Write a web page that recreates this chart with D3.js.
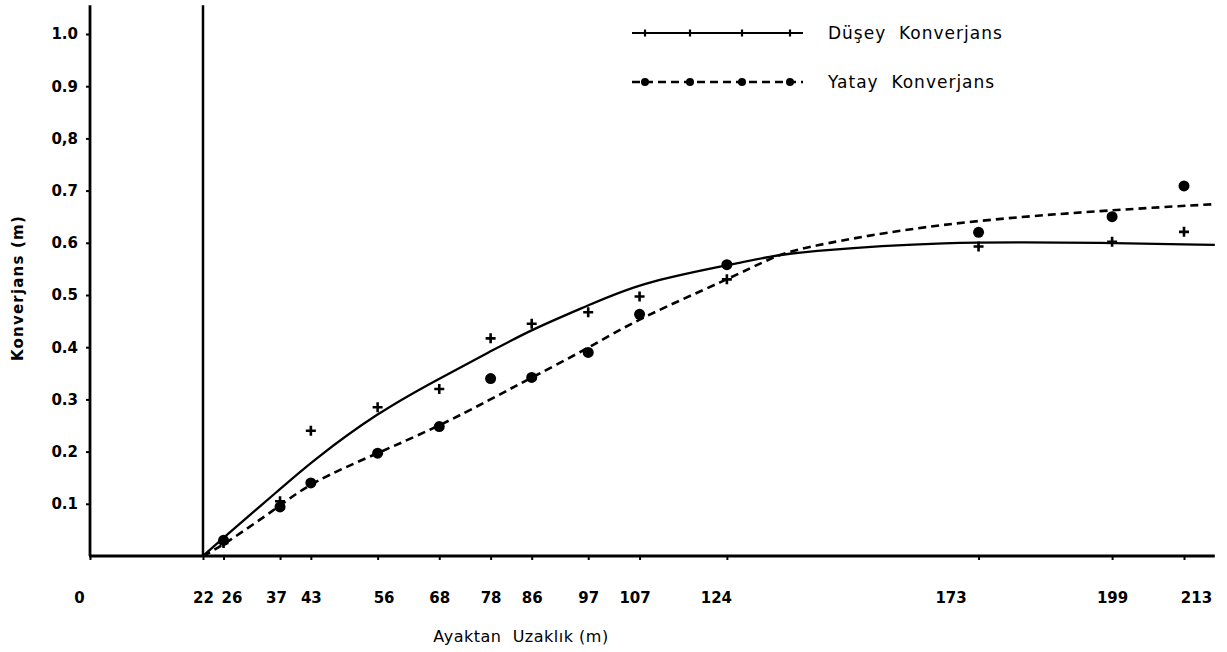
<!DOCTYPE html>
<html>
<head>
<meta charset="utf-8">
<script src="https://cdn.jsdelivr.net/npm/d3@7"></script>
<style>
  body { margin: 0; background: #fff; }
  svg text { font-family: "DejaVu Sans", sans-serif; fill: #000; }
</style>
</head>
<body>
<div id="chart"></div>
<script>
// distance ticks (m) and convergence ticks (m)
const xTicks = [0, 22, 26, 37, 43, 56, 68, 78, 86, 97, 107, 124, 173, 199, 213];
const yTicks = [0.1, 0.2, 0.3, 0.4, 0.5, 0.6, 0.7, 0.8, 0.9, 1.0];
const yTickLabels = ["0.1", "0.2", "0.3", "0.4", "0.5", "0.6", "0.7", "0,8", "0.9", "1.0"];

// measured points
const distances = [26, 37, 43, 56, 68, 78, 86, 97, 107, 124, 173, 199, 213];
const duseyValues = [0.025, 0.105, 0.24, 0.285, 0.32, 0.417, 0.445, 0.467, 0.497, 0.53, 0.593, 0.602, 0.621];
const yatayValues = [0.03, 0.094, 0.14, 0.197, 0.248, 0.34, 0.342, 0.39, 0.463, 0.558, 0.62, 0.65, 0.709];

// hand drawn fit curves
const fitDistances = [22, 26, 37, 43, 56, 68, 78, 86, 97, 107, 124, 133, 138, 165, 199, 219];
const duseyFit = [0, 0.035, 0.128, 0.18, 0.275, 0.34, 0.392, 0.434, 0.48, 0.523, 0.557, 0.575, 0.582, 0.603, 0.60, 0.596];
const yatayFit = [0, 0.021, 0.096, 0.141, 0.197, 0.249, 0.30, 0.342, 0.398, 0.456, 0.529, 0.573, 0.59, 0.638, 0.663, 0.674];

const seriesNames = ["Düşey  Konverjans", "Yatay  Konverjans"];
const xTitle = "Ayaktan  Uzaklık (m)";
const yTitle = "Konverjans (m)";

// hand lettered tick labels sit a bit off their ticks
const labelNudge = {0: -11, 26: 8, 37: -4, 56: 6, 107: -5, 124: -11, 173: -28, 213: 12};

const width = 1227, height = 652;

const svg = d3.select("#chart")
  .append("svg")
    .attr("width", width)
    .attr("height", height);

const x = d3.scaleLinear().domain([0, 213]).range([90, 1184]);
const y = d3.scaleLinear().domain([0, 1]).range([556, 34]);

// axes lines
svg.append("line")
  .attr("x1", x(0)).attr("x2", x(0))
  .attr("y1", y(1.055)).attr("y2", y(0))
  .attr("stroke", "#000").attr("stroke-width", 2.8);
svg.append("line")
  .attr("x1", x(22)).attr("x2", x(22))
  .attr("y1", y(1.055)).attr("y2", y(0))
  .attr("stroke", "#000").attr("stroke-width", 2.5);
svg.append("line")
  .attr("x1", x(0) - 1).attr("x2", x(219))
  .attr("y1", y(0)).attr("y2", y(0))
  .attr("stroke", "#000").attr("stroke-width", 3);

// y axis
const gy = svg.append("g")
  .attr("transform", `translate(${x(0)},0)`)
  .call(d3.axisLeft(y)
    .tickValues(yTicks)
    .tickSize(4)
    .tickPadding(8)
    .tickFormat((d, i) => yTickLabels[i]));
gy.select(".domain").remove();
gy.selectAll(".tick line").attr("stroke-width", 2);
gy.selectAll(".tick text")
  .style("font-family", "'DejaVu Sans', sans-serif")
  .style("font-size", "15px")
  .style("font-weight", "bold");

// x axis
const gx = svg.append("g")
  .attr("transform", `translate(0,${y(0)})`)
  .call(d3.axisBottom(x)
    .tickValues(xTicks)
    .tickSize(4)
    .tickPadding(32)
    .tickFormat(d3.format("d")));
gx.select(".domain").remove();
gx.selectAll(".tick line").attr("stroke-width", 2);
gx.selectAll(".tick text")
  .style("font-family", "'DejaVu Sans', sans-serif")
  .style("font-size", "15px")
  .style("font-weight", "bold")
  .attr("dx", d => labelNudge[d] || 0);

// titles
svg.append("text")
  .attr("x", 521).attr("y", 642)
  .attr("text-anchor", "middle")
  .style("font-size", "16px")
  .style("letter-spacing", "0.5px")
  .style("white-space", "pre")
  .text(xTitle);
svg.append("text")
  .attr("transform", "translate(23,288) rotate(-90)")
  .attr("text-anchor", "middle")
  .style("font-size", "15px")
  .style("font-weight", "bold")
  .style("letter-spacing", "1.2px")
  .text(yTitle);

// fit curves
const fitData = d => fitDistances.map((dx, i) => ({x: dx, y: d[i]}));
const line = d3.line()
  .x(d => x(d.x))
  .y(d => y(d.y))
  .curve(d3.curveBasis);

svg.append("path")
  .datum(fitData(duseyFit))
  .attr("d", line)
  .attr("fill", "none")
  .attr("stroke", "#000")
  .attr("stroke-width", 2.3);
svg.append("path")
  .datum(fitData(yatayFit))
  .attr("d", line)
  .attr("fill", "none")
  .attr("stroke", "#000")
  .attr("stroke-width", 2.6)
  .attr("stroke-dasharray", "8,5");

// markers
const plusPath = s => `M${-s},0H${s}M0,${-s}V${s}`;
svg.append("g").selectAll("path")
  .data(distances.map((d, i) => ({x: d, y: duseyValues[i]})))
  .join("path")
    .attr("transform", d => `translate(${x(d.x)},${y(d.y)})`)
    .attr("d", plusPath(5))
    .attr("stroke", "#000")
    .attr("stroke-width", 2.6);
svg.append("g").selectAll("circle")
  .data(distances.map((d, i) => ({x: d, y: yatayValues[i]})))
  .join("circle")
    .attr("cx", d => x(d.x))
    .attr("cy", d => y(d.y))
    .attr("r", 5.5)
    .attr("fill", "#000");

// legend
const legend = svg.append("g").attr("transform", "translate(632,33)");
const markerXs = [13, 58, 110, 158];
seriesNames.forEach((name, i) => {
  const g = legend.append("g").attr("transform", `translate(0,${i * 49})`);
  g.append("line")
    .attr("x1", 0).attr("x2", 171)
    .attr("stroke", "#000")
    .attr("stroke-width", i === 0 ? 2.2 : 2.6)
    .attr("stroke-dasharray", i === 0 ? null : "8,5");
  if (i === 0) {
    g.selectAll("path").data(markerXs).join("path")
      .attr("transform", d => `translate(${d},0)`)
      .attr("d", plusPath(3.5))
      .attr("stroke", "#000")
      .attr("stroke-width", 2.2);
  } else {
    g.selectAll("circle").data(markerXs).join("circle")
      .attr("cx", d => d).attr("cy", 0).attr("r", 4)
      .attr("fill", "#000");
  }
  g.append("text")
    .attr("x", 196).attr("y", 6)
    .style("font-size", "17px")
    .style("letter-spacing", "1px")
    .style("white-space", "pre")
    .text(name);
});
</script>
</body>
</html>
